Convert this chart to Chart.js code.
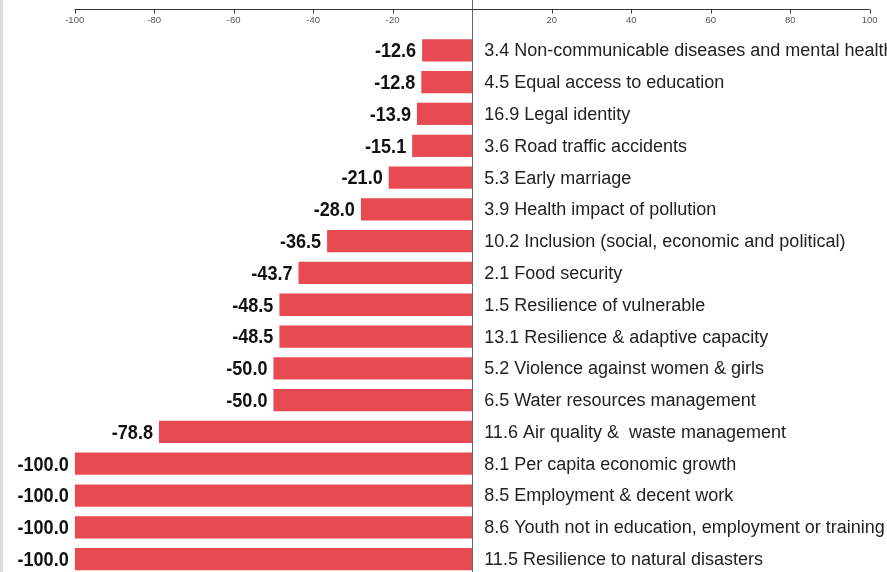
<!DOCTYPE html>
<html>
<head>
<meta charset="utf-8">
<script src="https://cdn.jsdelivr.net/npm/chart.js@4"></script>
<style>
  html, body { margin: 0; padding: 0; background: #fff; overflow: hidden; }
  .chart-box { position: relative; width: 887px; height: 575px; }
</style>
</head>
<body>
<div class="chart-box"><canvas id="chart"></canvas></div>
<script>
const categories = [
  '3.4 Non-communicable diseases and mental health',
  '4.5 Equal access to education',
  '16.9 Legal identity',
  '3.6 Road traffic accidents',
  '5.3 Early marriage',
  '3.9 Health impact of pollution',
  '10.2 Inclusion (social, economic and political)',
  '2.1 Food security',
  '1.5 Resilience of vulnerable',
  '13.1 Resilience & adaptive capacity',
  '5.2 Violence against women & girls',
  '6.5 Water resources management',
  '11.6 Air quality &  waste management',
  '8.1 Per capita economic growth',
  '8.5 Employment & decent work',
  '8.6 Youth not in education, employment or training',
  '11.5 Resilience to natural disasters'
];
const values = [-12.6, -12.8, -13.9, -15.1, -21.0, -28.0, -36.5, -43.7, -48.5, -48.5, -50.0, -50.0, -78.8, -100.0, -100.0, -100.0, -100.0];
const xTicks = [-100, -80, -60, -40, -20, 20, 40, 60, 80, 100];

const barColor = '#e84a52';

// top axis, zero line, value and category labels
const labelPlugin = {
  id: 'labels',
  afterDatasetsDraw(chart) {
    const ctx = chart.ctx;
    const x = chart.scales.x;
    const x0 = x.getPixelForValue(0);
    ctx.save();

    // page edge on the left
    ctx.fillStyle = '#dcdcdc';
    ctx.fillRect(0, 0, 3, chart.height);

    // zero line
    ctx.strokeStyle = '#666';
    ctx.lineWidth = 1;
    ctx.beginPath();
    ctx.moveTo(Math.round(x0) + 0.5, 0);
    ctx.lineTo(Math.round(x0) + 0.5, chart.height);
    ctx.stroke();

    // axis line with ticks hanging down
    const axisY = 9.5;
    ctx.strokeStyle = '#333';
    ctx.beginPath();
    ctx.moveTo(x.getPixelForValue(-100), axisY);
    ctx.lineTo(x.getPixelForValue(100), axisY);
    xTicks.forEach(v => {
      const px = Math.round(x.getPixelForValue(v)) + 0.5;
      ctx.moveTo(px, axisY);
      ctx.lineTo(px, axisY + 4);
    });
    ctx.stroke();

    ctx.fillStyle = '#555';
    ctx.font = '9.5px "Liberation Sans", Arial, sans-serif';
    ctx.textAlign = 'center';
    ctx.textBaseline = 'middle';
    xTicks.forEach(v => ctx.fillText(String(v), x.getPixelForValue(v), 20.5));

    const bars = chart.getDatasetMeta(0).data;
    bars.forEach((bar, i) => {
      // value, narrow bold, sits just before the bar
      ctx.save();
      ctx.translate(bar.x - 6, bar.y + 1);
      ctx.scale(0.86, 1);
      ctx.fillStyle = '#111';
      ctx.font = 'bold 21px "Liberation Sans", Arial, sans-serif';
      ctx.textAlign = 'right';
      ctx.textBaseline = 'middle';
      ctx.fillText(values[i].toFixed(1), 0, 0);
      ctx.restore();

      ctx.fillStyle = '#222';
      ctx.font = '18px "Liberation Sans", Arial, sans-serif';
      ctx.textAlign = 'left';
      ctx.textBaseline = 'middle';
      ctx.fillText(categories[i], x0 + 12, bar.y + 1);
    });
    ctx.restore();
  }
};

new Chart(document.getElementById('chart'), {
  type: 'bar',
  data: {
    labels: categories,
    datasets: [{
      data: values,
      backgroundColor: barColor,
      borderWidth: 0,
      barPercentage: 0.7,
      categoryPercentage: 1
    }]
  },
  options: {
    indexAxis: 'y',
    responsive: true,
    maintainAspectRatio: false,
    animation: false,
    layout: { padding: { left: 74.7, right: 17.3, top: 34.5, bottom: 0 } },
    scales: {
      x: { display: false, min: -100, max: 100 },
      y: { display: false }
    },
    plugins: {
      legend: { display: false },
      tooltip: { enabled: false }
    }
  },
  plugins: [labelPlugin]
});
</script>
</body>
</html>
